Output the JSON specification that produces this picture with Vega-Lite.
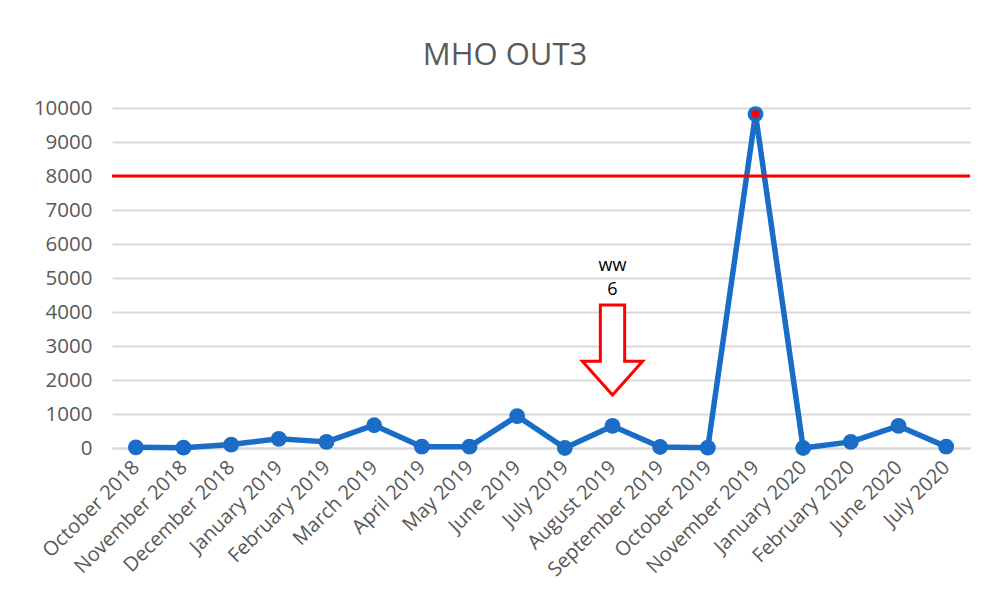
{
  "$schema": "https://vega.github.io/schema/vega-lite/v6.json",
  "autosize": {"type": "none"},
  "width": 858,
  "height": 340,
  "padding": {"left": 112, "top": 108, "right": 30, "bottom": 164},
  "background": "white",
  "config": {
    "view": {"stroke": null},
    "font": "Open Sans",
    "axis": {"labelFont": "Open Sans", "labelColor": "#595959", "titleColor": "#595959"}
  },
  "title": {
    "text": "MHO OUT3",
    "fontSize": 31,
    "font": "Open Sans",
    "fontWeight": "normal",
    "color": "#595959",
    "offset": 26,
    "dx": -36,
    "anchor": "middle"
  },
  "datasets": {
    "main": [
      {"month": "October 2018", "value": 20},
      {"month": "November 2018", "value": 10},
      {"month": "December 2018", "value": 100},
      {"month": "January 2019", "value": 270},
      {"month": "February 2019", "value": 180},
      {"month": "March 2019", "value": 670},
      {"month": "April 2019", "value": 40},
      {"month": "May 2019", "value": 40},
      {"month": "June 2019", "value": 940},
      {"month": "July 2019", "value": 0},
      {"month": "August 2019", "value": 650},
      {"month": "September 2019", "value": 30},
      {"month": "October 2019", "value": 10},
      {"month": "November 2019", "value": 9820},
      {"month": "January 2020", "value": 0},
      {"month": "February 2020", "value": 180},
      {"month": "June 2020", "value": 650},
      {"month": "July 2020", "value": 40}
    ]
  },
  "encoding": {
    "x": {
      "field": "month",
      "type": "nominal",
      "sort": null,
      "scale": {
        "type": "point",
        "padding": 0.5,
        "domain": ["October 2018", "November 2018", "December 2018", "January 2019", "February 2019", "March 2019", "April 2019", "May 2019", "June 2019", "July 2019", "August 2019", "September 2019", "October 2019", "November 2019", "January 2020", "February 2020", "June 2020", "July 2020"]
      },
      "axis": {
        "title": null,
        "labelAngle": -45,
        "labelAlign": "right",
        "labelBaseline": "middle",
        "labelFontSize": 20,
        "labelPadding": 16,
        "labelOverlap": false,
        "ticks": false,
        "domainColor": "#d9d9d9",
        "domainWidth": 2,
        "grid": false
      }
    },
    "y": {
      "field": "value",
      "type": "quantitative",
      "scale": {"domain": [0, 10000]},
      "axis": {
        "title": null,
        "values": [0, 1000, 2000, 3000, 4000, 5000, 6000, 7000, 8000, 9000, 10000],
        "tickCount": 11,
        "format": "d",
        "labelFontSize": 20.5,
        "labelPadding": 20,
        "labelOverlap": false,
        "ticks": false,
        "domain": false,
        "gridColor": "#d9d9d9",
        "gridWidth": 2
      }
    }
  },
  "layer": [
    {
      "data": {"name": "main"},
      "mark": {"type": "line", "color": "#1a6dc6", "strokeWidth": 5.5, "strokeJoin": "round"}
    },
    {
      "data": {"name": "main"},
      "mark": {"type": "point", "filled": true, "color": "#1a6dc6", "size": 250, "opacity": 1}
    },
    {
      "data": {"values": [{"month": "November 2019", "value": 9820}]},
      "mark": {"type": "point", "filled": true, "color": "#ff0000", "size": 70, "opacity": 1}
    },
    {
      "data": {"values": [{"value": 8000}]},
      "mark": {"type": "rule", "color": "#ff0000", "strokeWidth": 3},
      "encoding": {
        "x": null
      }
    },
    {
      "data": {"values": [{"month": "August 2019", "value": 2880}]},
      "mark": {
        "type": "point",
        "shape": "M-0.27,-1L0.27,-1L0.27,0.25L0.67,0.25L0,1L-0.67,0.25L-0.27,0.25Z",
        "size": 8100,
        "filled": false,
        "fill": "white",
        "fillOpacity": 1,
        "stroke": "#ff0000",
        "strokeWidth": 3,
        "strokeJoin": "miter",
        "opacity": 1
      }
    },
    {
      "data": {"values": [
        {"month": "August 2019", "value": 5350, "label": "ww"},
        {"month": "August 2019", "value": 4650, "label": "6"}
      ]},
      "mark": {"type": "text", "fontSize": 18, "color": "#000000", "font": "Open Sans", "baseline": "middle"},
      "encoding": {
        "text": {"field": "label"}
      }
    }
  ]
}
